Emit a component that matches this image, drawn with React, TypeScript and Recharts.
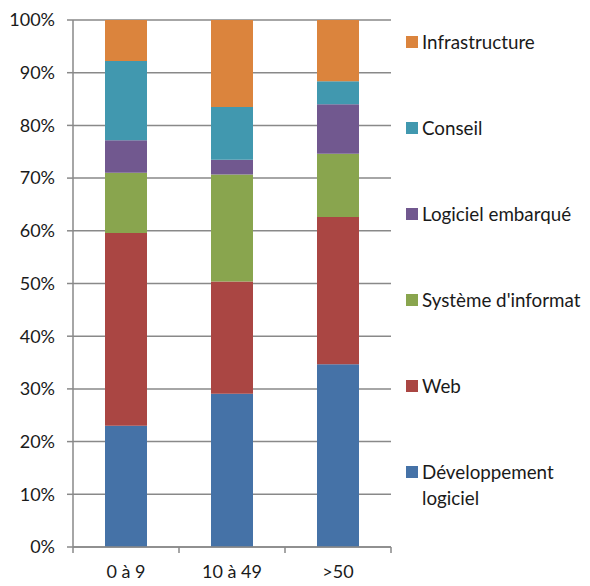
import { BarChart, Bar, XAxis, YAxis, CartesianGrid } from "recharts";

const categories = ["0 à 9", "10 à 49", ">50"];
const developpementLogiciel = [23.0, 29.1, 34.7];
const web = [36.6, 21.3, 27.9];
const systemeInformation = [11.4, 20.3, 12.0];
const logicielEmbarque = [6.2, 2.8, 9.4];
const conseil = [15.0, 10.0, 4.4];
const infrastructure = [7.8, 16.5, 11.6];
const yTicks = [0, 10, 20, 30, 40, 50, 60, 70, 80, 90, 100];

const series = [
    { key: "dev", name: "Développement logiciel", color: "#4572A7", values: developpementLogiciel },
    { key: "web", name: "Web", color: "#AA4643", values: web },
    { key: "si", name: "Système d'informat", color: "#89A54E", values: systemeInformation },
    { key: "emb", name: "Logiciel embarqué", color: "#71588F", values: logicielEmbarque },
    { key: "conseil", name: "Conseil", color: "#4198AF", values: conseil },
    { key: "infra", name: "Infrastructure", color: "#DB843D", values: infrastructure },
];

const data = categories.map((cat, i) => {
    const row: any = { cat };
    series.forEach((s) => (row[s.key] = s.values[i]));
    return row;
});

const FONT = "Lato, 'Noto Sans', sans-serif";
const GRID = "#898989";
const BAND = 106;

function XTick(props: any) {
    const { x, y, payload, index } = props;
    return (
        <g>
            <line x1={x - BAND / 2} x2={x - BAND / 2} y1={y} y2={y + 6} stroke={GRID} strokeWidth={1.5} />
            {index === categories.length - 1 && (
                <line x1={x + BAND / 2} x2={x + BAND / 2} y1={y} y2={y + 6} stroke={GRID} strokeWidth={1.5} />
            )}
            <text x={x} y={y + 31} textAnchor="middle" fill="#1a1a1a" fontSize={18} fontFamily={FONT}>
                {payload.value}
            </text>
        </g>
    );
}

function LegendBox() {
    const items = [...series].reverse();
    return (
        <div
            style={{
                position: "absolute",
                left: 406,
                top: 29,
                width: 184,
                fontFamily: FONT,
                fontSize: 18.8,
                color: "#1a1a1a",
            }}
        >
            {items.map((s) => (
                <div key={s.key} style={{ height: 86, display: "flex", alignItems: "flex-start" }}>
                    <span
                        style={{
                            width: 12,
                            height: 12,
                            background: s.color,
                            marginTop: 7,
                            marginRight: 4,
                            flexShrink: 0,
                        }}
                    />
                    <span style={{ lineHeight: "26px", width: 168, whiteSpace: "pre-wrap" }}>{s.name}</span>
                </div>
            ))}
        </div>
    );
}

export default function App() {
    return (
        <div style={{ position: "absolute", left: 0, top: 0, width: 590, height: 586, background: "#fff", overflow: "hidden" }}>
            <BarChart
                width={590}
                height={586}
                data={data}
                margin={{ top: 20, right: 199, bottom: 9, left: 0 }}
                barSize={42}
            >
                <CartesianGrid horizontal vertical={false} stroke={GRID} strokeWidth={1.5} />
                <XAxis
                    dataKey="cat"
                    height={30}
                    tickLine={false}
                    tickSize={0}
                    tickMargin={0}
                    axisLine={{ stroke: GRID, strokeWidth: 1.5 }}
                    tick={<XTick />}
                    interval={0}
                />
                <YAxis
                    width={73}
                    domain={[0, 100]}
                    ticks={yTicks}
                    tickFormatter={(v) => `${v}%`}
                    tickSize={6}
                    tickMargin={12}
                    tickLine={{ stroke: GRID, strokeWidth: 1.5 }}
                    axisLine={{ stroke: GRID, strokeWidth: 1.5 }}
                    tick={{ fill: "#1a1a1a", fontSize: 18, fontFamily: FONT }}
                    interval={0}
                />
                {series.map((s) => (
                    <Bar
                        key={s.key}
                        dataKey={s.key}
                        name={s.name}
                        stackId="a"
                        fill={s.color}
                        isAnimationActive={false}
                    />
                ))}
            </BarChart>
            <LegendBox />
        </div>
    );
}
